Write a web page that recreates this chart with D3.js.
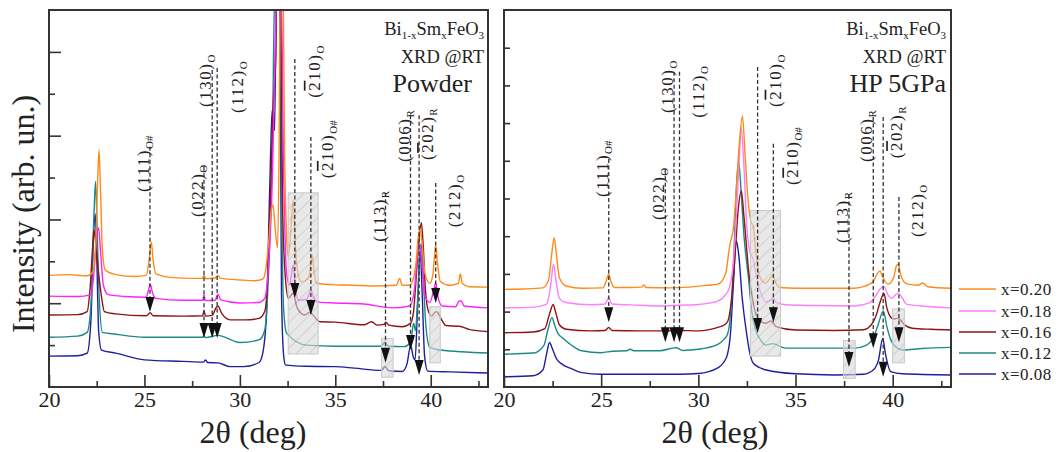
<!DOCTYPE html>
<html>
<head>
<meta charset="utf-8">
<script src="https://cdn.jsdelivr.net/npm/d3@7/dist/d3.min.js"></script>
<style>
body { margin: 0; background: #fff; }
svg text { font-family: "Liberation Serif", "DejaVu Serif", serif; fill: #222; }
</style>
</head>
<body>
<div id="chart"></div>
<script>
// series order: x=0.20, 0.18, 0.16, 0.12, 0.08
const seriesLabels = ["x=0.20", "x=0.18", "x=0.16", "x=0.12", "x=0.08"];

// powder XRD traces [2theta, intensity (arb.)]
const powder020 = [[20,29.6],[21,29.8],[22,29.5],[22.3,30.5],[22.45,38],[22.55,55],[22.62,62.9],[22.7,52],[22.8,36],[22.95,31],[23.5,29.8],[24.5,29.3],[25.1,29.6],[25.25,34],[25.36,38.5],[25.45,34],[25.6,30],[26.5,29],[27.5,28.8],[28.05,28.8],[28.12,29.8],[28.2,28.7],[28.7,28.9],[28.85,29.6],[29,28.8],[30,28.4],[30.8,28.2],[31.2,28.6],[31.35,31],[31.5,38],[31.65,47],[31.74,48.3],[31.85,42],[31.97,36.9],[32.05,60],[32.12,110],[32.25,110],[32.35,60],[32.45,40],[32.53,34.5],[32.65,40],[32.79,49.6],[32.9,38],[33.05,30],[33.23,27.9],[33.6,29],[33.72,33],[33.79,35],[33.88,31],[34,27.6],[35,27.1],[36,27],[37,26.8],[38.2,27],[38.37,28.8],[38.5,27],[38.9,27],[39.1,29],[39.25,34],[39.35,40],[39.45,42],[39.55,38],[39.7,30],[39.95,27.5],[40.12,30],[40.2,35],[40.26,37.7],[40.35,33],[40.5,28],[41,27],[41.45,27.5],[41.55,30],[41.65,27.5],[42,26.6],[43,26.5]];
const powder018 = [[20,24.1],[21.5,24],[22.2,24.5],[22.35,30],[22.5,40],[22.6,42.2],[22.7,36],[22.85,27],[23.1,24.5],[24,24],[25.1,23.8],[25.2,25.5],[25.31,27.2],[25.42,25],[25.6,23.5],[27,23],[28.05,23],[28.12,24.5],[28.2,22.9],[28.7,23],[28.85,24.6],[29,23.1],[30,22.3],[31,22.4],[31.3,23.5],[31.5,32],[31.7,55],[31.85,90],[31.95,110],[32.15,110],[32.3,55],[32.45,30],[32.6,27],[32.72,30.5],[32.79,32.4],[32.88,28],[33.05,23],[33.5,23.2],[33.65,25],[33.73,25.7],[33.85,24],[34.1,22.5],[35,22.3],[36.5,22],[38,21],[38.9,21.5],[39.15,26],[39.3,35],[39.42,38],[39.55,32],[39.7,24],[39.95,22.5],[40.15,25.5],[40.26,27.6],[40.4,23.5],[40.6,21.5],[41.3,21.3],[41.5,22.8],[41.6,22.8],[41.75,21.5],[43,21]];
const powder016 = [[20,19.1],[21.5,19.2],[22,20],[22.15,26],[22.3,38],[22.37,41.6],[22.45,38],[22.6,30],[22.75,24],[22.9,20],[23.5,19.4],[25.1,18.9],[25.3,19.7],[25.45,18.9],[27,18.8],[28.05,18.9],[28.12,20.2],[28.2,18.8],[28.55,19],[28.75,21],[28.86,21.4],[29.05,19.5],[29.5,17.8],[30.3,17.8],[31,18.2],[31.3,20],[31.45,28],[31.6,50],[31.75,75],[31.88,87],[31.95,110],[32.12,110],[32.25,45],[32.4,28],[32.55,23.5],[32.79,24.9],[33,21],[33.4,19.1],[33.65,19.8],[33.75,19.5],[34.2,17.3],[35,17.2],[36.5,16.5],[36.9,17.3],[37.2,16.4],[37.55,16.6],[37.65,17.2],[37.8,16.4],[38.5,16],[38.95,17],[39.1,20],[39.25,30],[39.4,40],[39.51,43.6],[39.6,38],[39.72,26],[39.86,20.4],[40.05,18.8],[40.2,19.7],[40.32,20],[40.5,18.5],[40.8,16.3],[41.5,16.1],[42,15.3],[43,14.7]];
const powder012 = [[20,13.2],[21.5,13.5],[22,14.5],[22.2,22],[22.35,45],[22.44,54.5],[22.52,42],[22.62,25],[22.8,14.5],[23.5,14],[25,13.2],[27,13.2],[28.05,13.2],[28.1,13.6],[28.2,13.1],[28.85,13.7],[30,11.8],[31,12.5],[31.3,15],[31.5,30],[31.7,65],[31.85,110],[32.1,110],[32.2,45],[32.3,20],[32.45,14.3],[33.5,11.1],[35,10.8],[37.4,10.8],[37.6,11.8],[37.8,10.8],[38.6,10.7],[38.95,12],[39.1,16.9],[39.2,15],[39.3,22],[39.42,35],[39.5,38],[39.6,30],[39.75,16],[39.95,10.5],[40.5,9.8],[43,9]];
const powder008 = [[20,8.2],[21.5,8.3],[22,9],[22.2,18],[22.33,40],[22.42,46],[22.5,35],[22.6,15],[22.75,9.8],[23.5,9],[25,7.2],[27,6.8],[28.1,6.6],[28.2,7.2],[28.3,6.5],[28.85,6.4],[29.5,5.4],[30.2,5.4],[31,6.5],[31.2,9],[31.4,20],[31.55,50],[31.68,72],[31.74,74],[31.82,68],[31.92,110],[32.08,110],[32.18,25],[32.3,8],[32.4,5.8],[33.5,5.5],[35,5.4],[36,5],[37.4,4.4],[37.6,5.4],[37.8,4.3],[38.5,4.1],[38.75,6],[38.95,11.1],[39.08,8],[39.18,7.2],[39.3,20],[39.45,36],[39.55,25],[39.68,8],[39.85,4.2],[41,4],[43,3.7]];

// high pressure (5 GPa) XRD traces
const hp020 = [[20,25.9],[21,26],[22,26.3],[22.3,28.5],[22.45,35],[22.58,39.6],[22.7,35],[22.85,29],[23.2,26.8],[24,26.2],[25.1,26.3],[25.25,28],[25.39,29.9],[25.5,28],[25.7,26.4],[26.5,26.4],[27.1,26.5],[27.2,27.1],[27.3,26.4],[28.5,26.3],[29.5,26.5],[30.5,27],[31,27.3],[31.4,30],[31.6,37],[31.67,38.8],[31.8,42],[31.95,52],[32.1,64],[32.27,71.9],[32.4,62],[32.55,50],[32.7,44],[32.83,42.5],[32.95,36],[33.1,30.5],[33.3,28],[33.45,27.6],[33.65,28.5],[33.82,29.5],[34,27.5],[34.2,26.4],[35,26.2],[36.5,26.2],[38,26.2],[38.6,26.8],[39,28],[39.2,30],[39.34,30.8],[39.5,29],[39.76,27.3],[40.05,29],[40.18,32],[40.28,32.6],[40.4,30],[40.6,27.8],[40.8,27.3],[41.3,27],[41.54,27.6],[41.8,26.6],[43,26.2]];
const hp018 = [[20,21],[21.5,21.2],[22.2,22],[22.4,27],[22.55,32.6],[22.68,28],[22.85,23.5],[23.2,22.4],[24.5,21.8],[25.2,22],[25.39,23.7],[25.55,22],[27,21.7],[28,21.5],[29,21.7],[30,21.9],[31,22.8],[31.4,24.5],[31.6,26.4],[31.8,33],[31.95,45],[32.1,60],[32.21,68.8],[32.35,58],[32.5,42],[32.65,36],[32.83,33.7],[33,29],[33.17,25.7],[33.5,22.5],[33.7,23],[33.86,23.5],[34,22.5],[34.5,21.8],[36,21.6],[38,21.5],[38.8,22.3],[39.1,24],[39.35,26],[39.55,26.7],[39.75,24.5],[39.95,23.5],[40.15,24.5],[40.28,24.9],[40.45,24],[40.7,22],[41.5,21.5],[43,21]];
const hp016 = [[20,14.4],[21.5,14.6],[22.1,15.5],[22.35,19.5],[22.53,21.9],[22.65,20],[22.85,16.5],[23.2,15.3],[24.5,14.9],[25.2,15],[25.39,15.8],[25.55,15],[27,14.9],[28.3,14.9],[29,15],[30,14.9],[31,15.8],[31.35,16.5],[31.52,17.5],[31.7,23],[31.9,36],[32.05,47],[32.21,52],[32.35,45],[32.6,30.2],[32.8,23],[32.95,19.5],[33.2,17.5],[33.46,16.9],[33.75,17.5],[34,16],[35,15.1],[37,15],[38.5,15.2],[38.9,16.5],[39.15,19],[39.35,22.5],[39.55,24.8],[39.7,21],[39.9,18.5],[40.05,18],[40.2,18.2],[40.35,18],[40.6,16.5],[41,15.6],[42,15.3],[43,15.1]];
const hp012 = [[20,8.7],[21.5,9],[22.05,11],[22.25,15],[22.47,18.4],[22.6,16.5],[22.8,14],[23,13.1],[23.5,11],[24,9.6],[25,9.1],[25.6,9.5],[26.3,9.6],[26.5,10],[26.7,9.6],[28,9.6],[28.85,10.4],[29.2,9.7],[30,10],[31,11.3],[31.3,12.5],[31.5,14],[31.7,22],[31.85,38],[31.95,52],[32.07,60],[32.2,52],[32.35,40],[32.57,29.3],[32.75,20],[32.95,15.1],[33.2,12.5],[33.46,11.1],[33.8,11.5],[34.5,10.3],[36,10.3],[38,10.3],[38.6,11],[39,13],[39.25,16.5],[39.52,20.2],[39.7,16],[39.9,12.5],[40.2,10.5],[40.5,9.8],[41.5,10.2],[43,10.5]];
const hp008 = [[20,2.7],[21.5,3],[22,4.5],[22.2,9],[22.34,11.8],[22.5,10],[22.7,7.5],[23,6],[23.5,4.8],[24,3.8],[25,3.4],[27,3.4],[29,3.4],[30,3.6],[31,5.1],[31.3,6.5],[31.5,8.7],[31.65,14],[31.8,27],[31.95,38.8],[32.08,35],[32.25,24],[32.48,14.3],[32.65,9],[32.83,6.3],[33.5,4.5],[35,3.5],[37,3.2],[38.5,3.4],[39,4.5],[39.27,7.2],[39.49,12.9],[39.62,9],[39.9,4.1],[40.5,3.5],[43,3.2]];

// peak annotations
const annoHkl = ["(111)", "(022)", "(130)", "(112)", "(210)", "(210)", "(113)", "(006)", "(202)", "(212)"];
const annoSub = ["O#", "O", "O", "O", "O", "O#", "R", "R", "R", "O"];
const annoBar = [false, false, false, false, true, true, false, false, true, false]; // bar over first index

const powderAnnoPos = [25.29, 28.12, 28.55, 28.81, 32.88, 33.72, 37.63, 38.94, 39.39, 40.26];
const powderAnnoTop = [63.7, 58.4, 84.1, 84.6, 87, 66.3, 51.5, 72.1, 72.1, 54.1];
const powderAnnoTip = [19.9, 13, 13, 13, 23.6, 19.1, 6.4, 9.8, 3.2, 22.3];
const powderAnnoText = [51.7, 45.1, 74.3, 72.7, 76.7, 55.4, 38.5, 59.7, 60.2, 42.4];

const hpAnnoPos = [25.39, 28.3, 28.75, 29.03, 33.05, 33.86, 37.75, 39.0, 39.51, 40.32];
const hpAnnoTop = [60.5, 57.6, 83.6, 83.6, 84.9, 64.5, 50.9, 71.6, 71.6, 50.4];
const hpAnnoTip = [17.2, 11.9, 11.9, 11.9, 14.3, 17.2, 5.3, 10.3, 2.7, 11.9];
const hpAnnoText = [50.4, 44.3, 72.7, 71.4, 74.3, 53.6, 38.2, 59.7, 60.7, 39.8];

// shaded regions [x0, x1, y0, y1]
const powderBoxes = [[32.53, 34.1, 8.75, 51.5], [37.42, 38.03, 2.6, 12.9], [39.95, 40.5, 6.4, 21.3]];
const hpBoxes = [[32.68, 34.23, 8.2, 46.8], [37.47, 38.07, 2.3, 12.3], [40.0, 40.6, 6.4, 20.7]];

const xMajorTicks = [20, 25, 30, 35, 40];
const xMinorTicks = [22.5, 27.5, 32.5, 37.5, 42.5];

// ---- layout / style ----
const width = 1058;
const height = 452;
const plotTop = 10;
const plotBottom = 387;
const serif = "'Liberation Serif', 'DejaVu Serif', serif";
const powderColors = ["#ff8a1c", "#ff22ff", "#8e1414", "#1a8a88", "#1f1f9c"];
const hpColors = ["#ff8a1c", "#ff7dff", "#8e1414", "#1a8a88", "#1f1f9c"];
const labelShiftPowder = [-1, -1, -1, 26, 25, 22, -1, -1, 14, 24];
const labelShiftHp = [-1, -1, -1, 25, 23, 25, -1, -1, 19, 24];

const svg = d3.select("#chart")
    .append("svg")
    .attr("width", width)
    .attr("height", height);

const defs = svg.append("defs");
const hatch = defs.append("pattern")
    .attr("id", "hatch")
    .attr("patternUnits", "userSpaceOnUse")
    .attr("width", 9)
    .attr("height", 9)
    .attr("patternTransform", "rotate(45)");
hatch.append("rect").attr("width", 9).attr("height", 9).attr("fill", "#d9d9d9");
hatch.append("line")
    .attr("x1", 0).attr("y1", 0).attr("x2", 0).attr("y2", 9)
    .attr("stroke", "#9a9a9a").attr("stroke-width", 1.2);

const panels = [
    {
        id: "powder", left: 49, right: 488,
        series: [powder020, powder018, powder016, powder012, powder008],
        colors: powderColors,
        pos: powderAnnoPos, top: powderAnnoTop, tip: powderAnnoTip, text: powderAnnoText,
        shift: labelShiftPowder,
        boxes: powderBoxes,
        yMajor: [2, 4, 6, 8].map(k => k * 100 / 9),
        yMinor: [1, 3, 5, 7].map(k => k * 100 / 9),
        title: "Powder", titleRight: 472,
        textRight: 484, xLabelX: 253
    },
    {
        id: "hp", left: 504, right: 951,
        series: [hp020, hp018, hp016, hp012, hp008],
        colors: hpColors,
        pos: hpAnnoPos, top: hpAnnoTop, tip: hpAnnoTip, text: hpAnnoText,
        shift: labelShiftHp,
        boxes: hpBoxes,
        yMajor: [],
        yMinor: d3.range(1, 10).map(k => k * 10),
        title: "HP 5GPa", titleRight: 946,
        textRight: 946, xLabelX: 715
    }
];

function styleTicks(a) {
    a.attr("font-family", serif);
    a.select(".domain").remove();
    a.selectAll("line").attr("stroke", "#333").attr("stroke-width", 1.6);
}

function drawPanel(p) {
    const x = d3.scaleLinear().domain([20, 43]).range([p.left, p.right]);
    const y = d3.scaleLinear().domain([0, 100]).range([plotBottom, plotTop]);
    const g = svg.append("g");

    defs.append("clipPath").attr("id", "clip-" + p.id)
        .append("rect")
        .attr("x", p.left).attr("y", plotTop)
        .attr("width", p.right - p.left).attr("height", plotBottom - plotTop);

    // traces, lowest first
    const line = d3.line()
        .x(d => x(d[0]))
        .y(d => y(d[1]))
        .curve(d3.curveMonotoneX);
    const traces = g.append("g").attr("clip-path", `url(#clip-${p.id})`);
    for (let i = p.series.length - 1; i >= 0; i--) {
        traces.append("path")
            .attr("d", line(p.series[i]))
            .attr("fill", "none")
            .attr("stroke", p.colors[i])
            .attr("stroke-width", 1.4)
            .attr("stroke-linejoin", "round");
    }

    // shaded boxes
    g.selectAll(".box")
        .data(p.boxes)
        .join("rect")
        .attr("x", d => x(d[0]))
        .attr("y", d => y(d[3]))
        .attr("width", d => x(d[1]) - x(d[0]))
        .attr("height", d => y(d[2]) - y(d[3]))
        .attr("fill", "url(#hatch)")
        .attr("fill-opacity", 0.6)
        .attr("stroke", "#c8c8c8")
        .attr("stroke-width", 1);

    // dashed markers + arrows + labels
    p.pos.forEach((pos, i) => {
        const px = x(pos);
        const tipY = y(p.tip[i]);
        g.append("line")
            .attr("x1", px).attr("x2", px)
            .attr("y1", y(p.top[i])).attr("y2", tipY - 12)
            .attr("stroke", "#333")
            .attr("stroke-width", 1.3)
            .attr("stroke-dasharray", "4,2.5");
        g.append("path")
            .attr("d", `M${px - 4.5},${tipY - 15} L${px + 4.5},${tipY - 15} L${px},${tipY} Z`)
            .attr("fill", "#111");

        const t = g.append("text")
            .attr("transform", `translate(${px + p.shift[i]},${y(p.text[i])}) rotate(-90)`)
            .style("font-size", "17px")
            .style("letter-spacing", "1.5px");
        const hkl = annoHkl[i];
        if (annoBar[i]) {
            t.append("tspan").text(hkl.slice(0, 1));
            t.append("tspan").style("text-decoration", "overline").text(hkl.slice(1, 2));
            t.append("tspan").text(hkl.slice(2));
        } else {
            t.append("tspan").text(hkl);
        }
        t.append("tspan")
            .attr("dy", 4)
            .style("font-size", "11px")
            .style("letter-spacing", "0px")
            .text(annoSub[i]);
    });

    // ticks
    g.append("g")
        .attr("transform", `translate(0,${plotBottom})`)
        .call(d3.axisBottom(x).tickValues(xMajorTicks).tickSizeInner(-12).tickSizeOuter(0).tickPadding(4))
        .call(styleTicks)
        .call(a => a.selectAll("text").style("font-size", "22px").attr("fill", "#222"));
    g.append("g")
        .attr("transform", `translate(0,${plotBottom})`)
        .call(d3.axisBottom(x).tickValues(xMinorTicks).tickSizeInner(-6).tickSizeOuter(0).tickFormat(""))
        .call(styleTicks);
    g.append("g")
        .attr("transform", `translate(${p.left},0)`)
        .call(d3.axisLeft(y).tickValues(p.yMajor).tickSizeInner(-12).tickSizeOuter(0).tickFormat(""))
        .call(styleTicks);
    g.append("g")
        .attr("transform", `translate(${p.left},0)`)
        .call(d3.axisLeft(y).tickValues(p.yMinor).tickSizeInner(-6).tickSizeOuter(0).tickFormat(""))
        .call(styleTicks);

    // frame
    g.append("rect")
        .attr("x", p.left).attr("y", plotTop)
        .attr("width", p.right - p.left).attr("height", plotBottom - plotTop)
        .attr("fill", "none")
        .attr("stroke", "#333")
        .attr("stroke-width", 2);

    // compound / condition labels
    const f = g.append("text")
        .attr("x", p.textRight).attr("y", 35)
        .attr("text-anchor", "end")
        .style("font-size", "18.5px");
    f.append("tspan").text("Bi");
    f.append("tspan").attr("dy", 4).style("font-size", "11px").text("1-x");
    f.append("tspan").attr("dy", -4).text("Sm");
    f.append("tspan").attr("dy", 4).style("font-size", "11px").text("x");
    f.append("tspan").attr("dy", -4).text("FeO");
    f.append("tspan").attr("dy", 4).style("font-size", "11px").text("3");
    g.append("text")
        .attr("x", p.textRight).attr("y", 63)
        .attr("text-anchor", "end")
        .style("font-size", "18.5px")
        .text("XRD @RT");
    g.append("text")
        .attr("x", p.titleRight).attr("y", 92)
        .attr("text-anchor", "end")
        .style("font-size", "26px")
        .text(p.title);

    // x axis title
    g.append("text")
        .attr("x", p.xLabelX).attr("y", 443)
        .attr("text-anchor", "middle")
        .style("font-size", "32px")
        .text("2θ (deg)");
}

panels.forEach(drawPanel);

// y axis title
svg.append("text")
    .attr("transform", "translate(34,214) rotate(-90)")
    .attr("text-anchor", "middle")
    .style("font-size", "32px")
    .text("Intensity (arb. un.)");

// legend
const legendY = [289, 311, 332, 353, 374];
const legend = svg.append("g");
seriesLabels.forEach((lab, i) => {
    legend.append("line")
        .attr("x1", 959).attr("x2", 996)
        .attr("y1", legendY[i]).attr("y2", legendY[i])
        .attr("stroke", hpColors[i])
        .attr("stroke-width", 1.4);
    legend.append("text")
        .attr("x", 1001).attr("y", legendY[i])
        .attr("dy", "0.35em")
        .style("font-size", "17px")
        .style("letter-spacing", "0.5px")
        .text(lab);
});
</script>
</body>
</html>
